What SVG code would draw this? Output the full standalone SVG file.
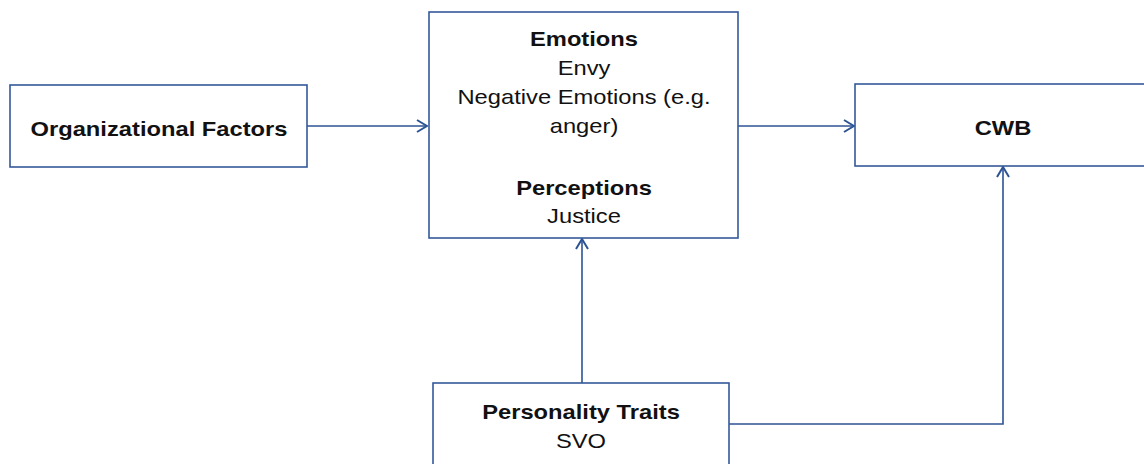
<svg xmlns="http://www.w3.org/2000/svg" width="1144" height="464" viewBox="0 0 1144 464">
<defs>
<style>
.box{fill:#fff;stroke:#34599a;stroke-width:1.6}
.con{fill:none;stroke:#2c5394;stroke-width:1.6}
text{font-family:"Liberation Sans",Arial,sans-serif;font-size:21px;fill:#111;text-anchor:middle}
.b{font-weight:bold}
</style>
<marker id="arr" viewBox="0 0 12 14" refX="11" refY="7" markerWidth="12" markerHeight="14" markerUnits="userSpaceOnUse" orient="auto">
<path d="M1,1 L11,7 L1,13" fill="none" stroke="#2c5394" stroke-width="2"/>
</marker>
</defs>
<rect width="1144" height="464" fill="#fff"/>
<g id="connectors">
<path class="con" d="M307,126 H427" marker-end="url(#arr)"/>
<path class="con" d="M738,126 H854" marker-end="url(#arr)"/>
<path class="con" d="M582,383 V239" marker-end="url(#arr)"/>
<path class="con" d="M729,424 H1003 V167" marker-end="url(#arr)"/>
</g>
<g id="org">
<rect class="box" x="10" y="85" width="297" height="82"/>
<g transform="translate(159,0) scale(1.13,1)"><text class="b" x="0" y="136">Organizational Factors</text></g>
</g>
<g id="emotions">
<rect class="box" x="429" y="12" width="309" height="226"/>
<g transform="translate(584,0) scale(1.13,1)">
<text class="b" x="0" y="46">Emotions</text>
<text x="0" y="75">Envy</text>
<text x="0" y="104">Negative Emotions (e.g.</text>
<text x="0" y="133">anger)</text>
<text class="b" x="0" y="195">Perceptions</text>
<text x="0" y="223">Justice</text>
</g>
</g>
<g id="cwb">
<rect class="box" x="855" y="84" width="300" height="82"/>
<g transform="translate(1003,0) scale(1.13,1)"><text class="b" x="0" y="135">CWB</text></g>
</g>
<g id="personality">
<rect class="box" x="433" y="383" width="296" height="100"/>
<g transform="translate(581,0) scale(1.13,1)">
<text class="b" x="0" y="419">Personality Traits</text>
<text x="0" y="448">SVO</text>
</g>
</g>
</svg>
